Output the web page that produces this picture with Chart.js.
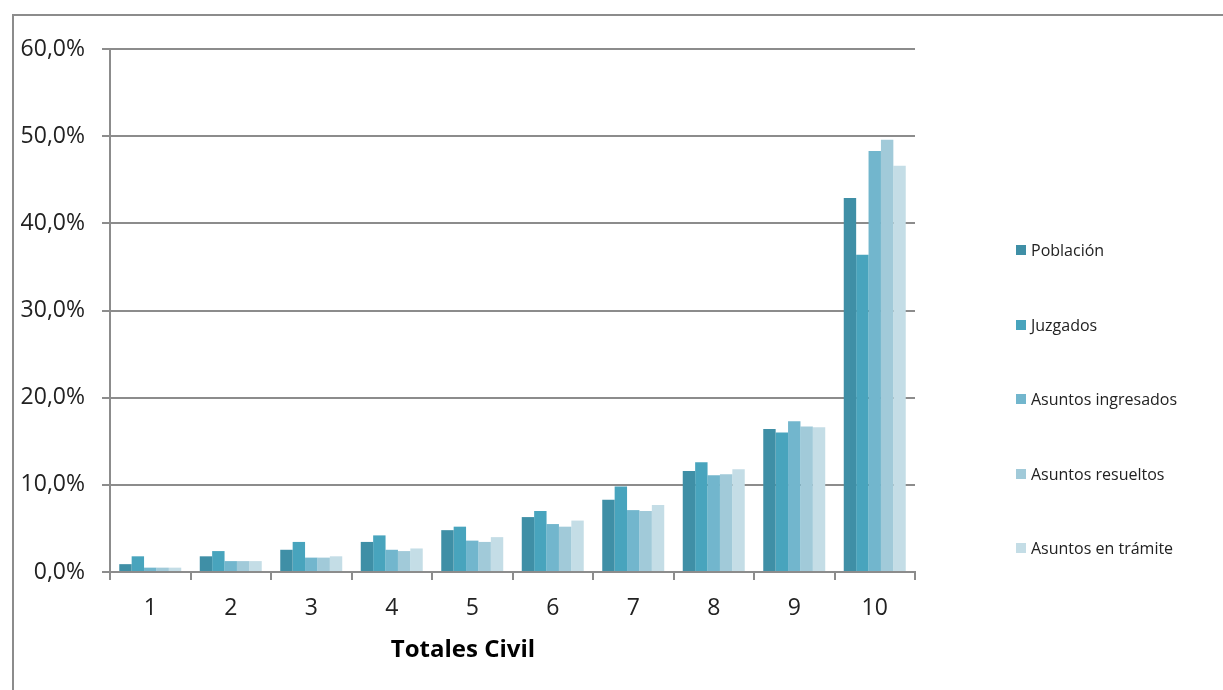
<!DOCTYPE html>
<html>
<head>
<meta charset="utf-8">
<script src="https://cdn.jsdelivr.net/npm/chart.js@4"></script>
<style>
  html, body { margin: 0; padding: 0; background: #fff; overflow: hidden; }
  body { width: 1223px; height: 690px; position: relative; font-family: 'Open Sans', sans-serif; }
  #frame { position: absolute; left: 12px; top: 14px; width: 1300px; height: 800px;
           border-left: 2px solid #8c8c8c; border-top: 2px solid #8c8c8c; }
  #chart { position: absolute; left: 0; top: 0; }
  #axisTitle { position: absolute; left: 343px; width: 240px; top: 632px; text-align: center;
               font-weight: bold; font-size: 24px; color: #000; line-height: 32px; }
  #legend { position: absolute; left: 1016px; top: 213px; }
  .item { height: 74.5px; display: flex; align-items: center; font-size: 16px; color: #222; }
  .swatch { width: 10px; height: 10px; margin-right: 5px; }
</style>
</head>
<body>
<div id="frame"></div>
<canvas id="chart" width="1223" height="690"></canvas>
<div id="axisTitle">Totales Civil</div>
<div id="legend"></div>
<script>
const categories = ['1', '2', '3', '4', '5', '6', '7', '8', '9', '10'];
const seriesNames = ['Población', 'Juzgados', 'Asuntos ingresados', 'Asuntos resueltos', 'Asuntos en trámite'];
const seriesColors = ['#3f8fa6', '#48a4bd', '#72b6cd', '#a1cad9', '#c4dde6'];

const poblacion = [0.9, 1.8, 2.55, 3.45, 4.8, 6.3, 8.3, 11.6, 16.4, 42.9];
const juzgados = [1.8, 2.4, 3.45, 4.2, 5.2, 7.0, 9.8, 12.6, 16.0, 36.4];
const ingresados = [0.5, 1.25, 1.65, 2.55, 3.6, 5.5, 7.1, 11.1, 17.3, 48.3];
const resueltos = [0.5, 1.25, 1.65, 2.4, 3.45, 5.2, 7.0, 11.2, 16.7, 49.6];
const tramite = [0.5, 1.25, 1.8, 2.7, 4.0, 5.9, 7.7, 11.8, 16.6, 46.6];

const seriesValues = [poblacion, juzgados, ingresados, resueltos, tramite];

document.addEventListener('DOMContentLoaded', () => {
  Chart.defaults.font.family = "'Open Sans', sans-serif";
  const gridGray = '#8c8c8c';

  const datasets = seriesNames.map((name, i) => ({
    label: name,
    data: seriesValues[i],
    backgroundColor: seriesColors[i],
    borderWidth: 0,
    categoryPercentage: 0.77,
    barPercentage: 1.0
  }));

  new Chart(document.getElementById('chart'), {
    type: 'bar',
    data: { labels: categories, datasets },
    options: {
      responsive: false,
      animation: false,
      layout: { padding: { top: 49, right: 308, left: 0, bottom: 0 } },
      plugins: { legend: { display: false }, tooltip: { enabled: false } },
      scales: {
        x: {
          grid: { drawOnChartArea: false, drawTicks: true, tickLength: 8, color: gridGray, lineWidth: 2, offset: true },
          border: { display: true, color: gridGray, width: 2 },
          ticks: { color: '#222', font: { size: 23 }, padding: 15 },
          afterFit: (scale) => { scale.height = 118; }
        },
        y: {
          min: 0,
          max: 60,
          grid: { color: gridGray, lineWidth: 2, tickLength: 8 },
          border: { display: true, color: gridGray, width: 2 },
          ticks: {
            stepSize: 10,
            color: '#222',
            font: { size: 23 },
            padding: 17,
            callback: (v) => v.toFixed(1).replace('.', ',') + '%'
          },
          afterFit: (scale) => { scale.width = 110; }
        }
      }
    }
  });

  // legend as html
  const legend = document.getElementById('legend');
  seriesNames.forEach((name, i) => {
    const item = document.createElement('div');
    item.className = 'item';
    const sw = document.createElement('span');
    sw.className = 'swatch';
    sw.style.background = seriesColors[i];
    const label = document.createElement('span');
    label.textContent = name;
    item.appendChild(sw);
    item.appendChild(label);
    legend.appendChild(item);
  });
});
</script>
</body>
</html>
